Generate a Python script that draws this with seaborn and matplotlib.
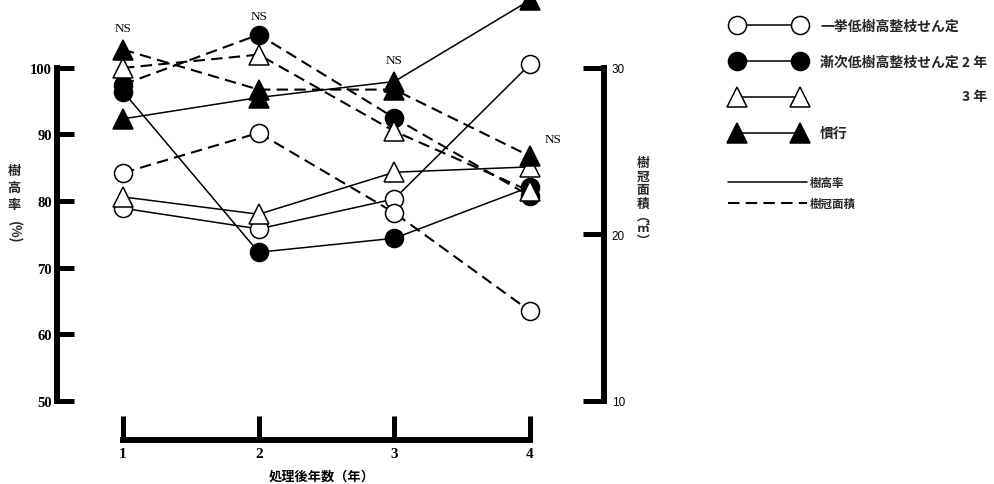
import matplotlib
matplotlib.use("Agg")
import matplotlib.pyplot as plt
from matplotlib.lines import Line2D
import seaborn as sns

# data
years = [1, 2, 3, 4]
treatments = ['一挙低樹高整枝せん定', '漸次低樹高整枝せん定 2 年', '', '慣行']

# 樹高率 (%), left axis
height_ikkyo = [78.9, 75.8, 80.3, 100.5]
height_zenji2 = [96.4, 72.3, 74.4, 82.1]
height_zenji3 = [80.6, 78.0, 84.3, 85.1]
height_kanko = [92.3, 95.5, 97.9, 110.1]

# 樹冠面積 (m2), right axis
crown_ikkyo = [23.7, 26.1, 21.3, 15.4]
crown_zenji2 = [29.0, 32.0, 27.0, 22.3]
crown_zenji3 = [30.0, 30.8, 26.2, 22.6]
crown_kanko = [31.1, 28.7, 28.7, 24.7]

left_ticks = [50, 60, 70, 80, 90, 100]
right_ticks = [10, 20, 30]

ns_x = [1, 2, 3, 4.17]
ns_y = [105.9, 107.7, 101.1, 89.3]

sns.set_theme(style="white")
plt.rcParams['font.family'] = ['Noto Sans CJK JP', 'DejaVu Sans']

fig = plt.figure(figsize=(9.95, 4.85), dpi=100)
ax = fig.add_axes([57 / 995, 83 / 485, 547 / 995, 402 / 485])
ax2 = ax.twinx()

# marker styles for the four treatments: (marker, face, size)
styles = [('o', 'white', 13), ('o', 'black', 13), ('^', 'white', 14), ('^', 'black', 14)]
heights = [height_ikkyo, height_zenji2, height_zenji3, height_kanko]
crowns = [crown_ikkyo, crown_zenji2, crown_zenji3, crown_kanko]

for (m, fc, ms), h, c in zip(styles, heights, crowns):
    sns.lineplot(x=years, y=h, ax=ax, color='black', linewidth=1.1, marker=m,
                 markersize=ms, markerfacecolor=fc, markeredgecolor='black',
                 markeredgewidth=1.1, legend=False, clip_on=False)
    sns.lineplot(x=years, y=c, ax=ax2, color='black', linewidth=1.5,
                 linestyle=(0, (5.5, 3)), marker=m, markersize=ms,
                 markerfacecolor=fc, markeredgecolor='black',
                 markeredgewidth=1.1, legend=False, clip_on=False)

ax.set_xlim(0.5135, 4.545)
ax.set_ylim(50, 110.27)
ax2.set_ylim(10, 34.14)

ax.patch.set_visible(False)
for s in ['top', 'right']:
    ax.spines[s].set_visible(False)
for s in ['top', 'left', 'bottom']:
    ax2.spines[s].set_visible(False)

for sp in [ax.spines['left'], ax.spines['bottom'], ax2.spines['right']]:
    sp.set_linewidth(4.3)
    sp.set_color('black')
ax.spines['left'].set_bounds(50, 100)
ax2.spines['right'].set_bounds(10, 30)
ax.spines['bottom'].set_bounds(1, 4)
ax.spines['bottom'].set_position(('outward', 28))

ax.set_xticks(years)
ax.set_yticks(left_ticks)
ax2.set_yticks(right_ticks)
ax.tick_params(axis='y', direction='in', length=12, width=3.6, pad=3.5,
               labelsize=10.5, color='black', labelcolor='black', left=True)
ax.tick_params(axis='x', direction='in', length=17, width=3.6, pad=5,
               labelsize=11, color='black', labelcolor='black', bottom=True)
ax2.tick_params(axis='y', direction='in', length=15, width=3.6, pad=5.5,
                labelsize=8.5, color='black', labelcolor='black', right=True)
for t in ax.get_yticklabels() + ax.get_xticklabels():
    t.set_fontfamily('Liberation Serif')
    t.set_fontweight('bold')
for t in ax2.get_yticklabels():
    t.set_fontfamily('Liberation Sans')

ax.grid(False)
ax2.grid(False)

for x, y in zip(ns_x, ns_y):
    ax.text(x, y, 'NS', ha='center', va='center', fontsize=9.5,
            family='Liberation Serif', color='black')

ax.set_xlabel('処理後年数（年）', fontsize=9.5, fontweight='bold', color='black')
ax.xaxis.set_label_coords(0.484, -0.169)
ax.set_ylabel('')
ax2.set_ylabel('')

fig.text(14 / 995, 1 - 188 / 485, '樹\n高\n率', ha='center', va='center',
         fontsize=9.5, weight='bold', linespacing=1.3)
fig.text(14 / 995, 1 - 232 / 485, '(%)', ha='center', va='center',
         fontsize=9.5, weight='bold', rotation=-90)
fig.text(643 / 995, 1 - 184 / 485, '樹\n冠\n面\n積', ha='center', va='center',
         fontsize=9.2, weight='bold', linespacing=1.05)
fig.text(643 / 995, 1 - 229 / 485, '︵\n㎡\n︶', ha='center', va='center',
         fontsize=9.2, weight='bold', linespacing=0.9)

# legends
h1 = [Line2D([], [], color='black', lw=1.1, marker=m, markersize=ms,
             markerfacecolor=fc, markeredgecolor='black', markeredgewidth=1.1)
      for m, fc, ms in styles]
leg1 = fig.legend(h1, treatments, loc='upper left',
                  bbox_to_anchor=(733 / 995, 1 - 20 / 485), frameon=False,
                  numpoints=2, handlelength=5.13, handletextpad=1.14,
                  labelspacing=1.57, borderpad=0, borderaxespad=0,
                  prop={'size': 10, 'weight': 'bold'})
fig.text(987 / 995, 1 - 97 / 485, '3 年', ha='right', va='center',
         fontsize=10, weight='bold')

h2 = [Line2D([], [], color='black', lw=1.1),
      Line2D([], [], color='black', lw=1.5, linestyle=(0, (5.5, 3)))]
leg2 = fig.legend(h2, ['樹高率', '樹冠面積'], loc='upper left',
                  bbox_to_anchor=(728 / 995, 1 - 177 / 485), frameon=False,
                  handlelength=6.84, handletextpad=0.29, labelspacing=0.7,
                  borderpad=0, borderaxespad=0,
                  prop={'size': 8.3, 'weight': 'bold'})

fig.savefig('out.png', dpi=100, facecolor='white')
